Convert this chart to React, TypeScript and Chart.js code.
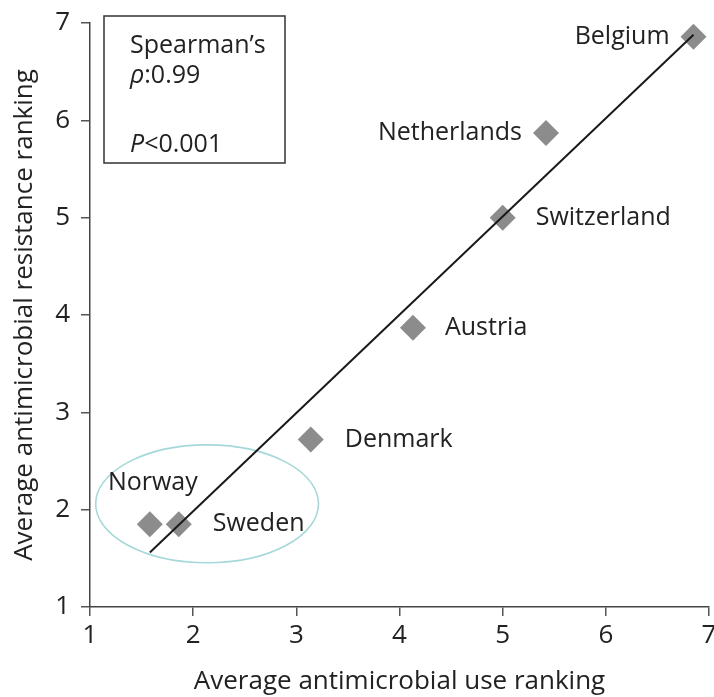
import React, { useEffect, useRef } from "react";
import { Chart, registerables } from "chart.js";

Chart.register(...registerables);

// ---- data ----
const countries = ["Belgium", "Netherlands", "Switzerland", "Austria", "Denmark", "Norway", "Sweden"];
const useRanking = [6.85, 5.42, 5.0, 4.13, 3.14, 1.58, 1.86];
const resistanceRanking = [6.86, 5.87, 5.0, 3.87, 2.72, 1.85, 1.85];
const fitLineX = [1.58, 6.85];
const fitLineY = [1.56, 6.88];
const axisMin = 1;
const axisMax = 7;
const xTitle = "Average antimicrobial use ranking";
const yTitle = "Average antimicrobial resistance ranking";
const statTitle = "Spearman\u2019s";
const rhoSymbol = "\u03C1";
const rhoValue = ":0.99";
const pSymbol = "P";
const pValue = "<0.001";
// highlighted group (Nordic countries) ellipse in data units: centre x, centre y, radius x, radius y
const groupEllipse = [2.135, 2.06, 1.08, 0.606];

// ---- label placement (style) ----
const labelPlacement: { align: CanvasTextAlign; dx: number; dy: number }[] = [
  { align: "right", dx: -24, dy: 0 },
  { align: "right", dx: -24, dy: 0 },
  { align: "left", dx: 33, dy: 0 },
  { align: "left", dx: 32, dy: 0 },
  { align: "left", dx: 34, dy: 0 },
  { align: "center", dx: 3, dy: -41 },
  { align: "left", dx: 34, dy: 0 },
];

const FONT = "'Open Sans', Lato, sans-serif";
const TEXT = "#222";

const annotationPlugin = {
  id: "annotations",
  beforeDatasetsDraw(chart: any) {
    const { ctx, scales } = chart;
    const xs = scales.x;
    const ys = scales.y;
    const [cx, cy, rx, ry] = groupEllipse;
    const px = xs.getPixelForValue(cx);
    const py = ys.getPixelForValue(cy);
    const prx = Math.abs(xs.getPixelForValue(cx + rx) - px);
    const pry = Math.abs(ys.getPixelForValue(cy + ry) - py);
    ctx.save();
    ctx.beginPath();
    ctx.ellipse(px, py, prx, pry, 0, 0, Math.PI * 2);
    ctx.strokeStyle = "#a6d8da";
    ctx.lineWidth = 1.6;
    ctx.stroke();
    ctx.restore();
  },
  afterDatasetsDraw(chart: any) {
    const { ctx, scales, chartArea } = chart;
    const xs = scales.x;
    const ys = scales.y;
    ctx.save();
    ctx.fillStyle = TEXT;
    ctx.font = `25px ${FONT}`;
    ctx.textBaseline = "middle";
    countries.forEach((name, i) => {
      const p = labelPlacement[i];
      const x = xs.getPixelForValue(useRanking[i]);
      const y = ys.getPixelForValue(resistanceRanking[i]);
      ctx.textAlign = p.align;
      ctx.fillText(name, x + p.dx, y + p.dy);
    });

    // statistics box
    const bx = chartArea.left + 14;
    const by = chartArea.top - 7;
    const bw = 181;
    const bh = 147;
    ctx.strokeStyle = "#333";
    ctx.lineWidth = 1.5;
    ctx.strokeRect(bx, by, bw, bh);
    ctx.textAlign = "left";
    ctx.textBaseline = "alphabetic";
    const tx = bx + 26;
    ctx.font = `25px ${FONT}`;
    ctx.fillText(statTitle, tx, by + 37);
    ctx.font = `italic 25px ${FONT}`;
    ctx.fillText(rhoSymbol, tx, by + 67);
    let w = ctx.measureText(rhoSymbol).width;
    ctx.font = `25px ${FONT}`;
    ctx.fillText(rhoValue, tx + w, by + 67);
    ctx.font = `italic 25px ${FONT}`;
    ctx.fillText(pSymbol, tx, by + 136);
    w = ctx.measureText(pSymbol).width;
    ctx.font = `25px ${FONT}`;
    ctx.fillText(pValue, tx + w, by + 136);
    ctx.restore();
  },
};

export default function App() {
  const ref = useRef<HTMLCanvasElement | null>(null);
  useEffect(() => {
    document.body.style.margin = "0";
    if (!ref.current) return;
    const points = useRanking.map((x, i) => ({ x, y: resistanceRanking[i] }));
    const line = fitLineX.map((x, i) => ({ x, y: fitLineY[i] }));
    const axisCommon = (title: string, isX: boolean) => ({
      type: "linear" as const,
      min: axisMin,
      max: axisMax,
      ticks: {
        stepSize: 1,
        color: TEXT,
        font: { family: FONT, size: 26 },
        padding: isX ? 4 : 11,
      },
      grid: {
        drawOnChartArea: false,
        drawTicks: true,
        tickLength: 9,
        tickColor: "#555",
        lineWidth: 1.5,
      },
      border: { display: true, color: "#444", width: 1.5 },
      title: {
        display: true,
        text: title,
        color: TEXT,
        font: { family: FONT, size: 26 },
        padding: isX ? { top: 0, bottom: 0 } : { top: 9, bottom: 0 },
      },
      afterFit: (scale: any) => {
        if (isX) scale.height = 90;
        else scale.width = 90;
        scale.paddingLeft = 0;
        scale.paddingRight = 0;
        scale.paddingTop = 0;
        scale.paddingBottom = 0;
      },
    });
    const chart = new Chart(ref.current, {
      type: "scatter",
      data: {
        datasets: [
          {
            type: "line",
            data: line,
            borderColor: "#1a1a1a",
            borderWidth: 2,
            pointRadius: 0,
            fill: false,
            order: 0,
            clip: false,
          } as any,
          {
            type: "scatter",
            data: points,
            backgroundColor: "#8c8c8c",
            borderColor: "#8c8c8c",
            borderWidth: 0,
            pointStyle: "rectRot",
            pointRadius: 13,
            order: 1,
            clip: false,
          } as any,
        ],
      },
      options: {
        animation: false,
        responsive: false,
        layout: { autoPadding: false, padding: { top: 23, right: 5, left: 0, bottom: 0 } },
        plugins: { legend: { display: false }, tooltip: { enabled: false } },
        scales: {
          x: axisCommon(xTitle, true),
          y: axisCommon(yTitle, false),
        },
        elements: { point: { hoverRadius: 13 } },
      } as any,
      plugins: [annotationPlugin],
    });
    return () => chart.destroy();
  }, []);
  return (
    <div style={{ position: "absolute", left: 0, top: 0, width: 714, height: 697 }}>
      <canvas ref={ref} width={714} height={697} style={{ display: "block" }} />
    </div>
  );
}
